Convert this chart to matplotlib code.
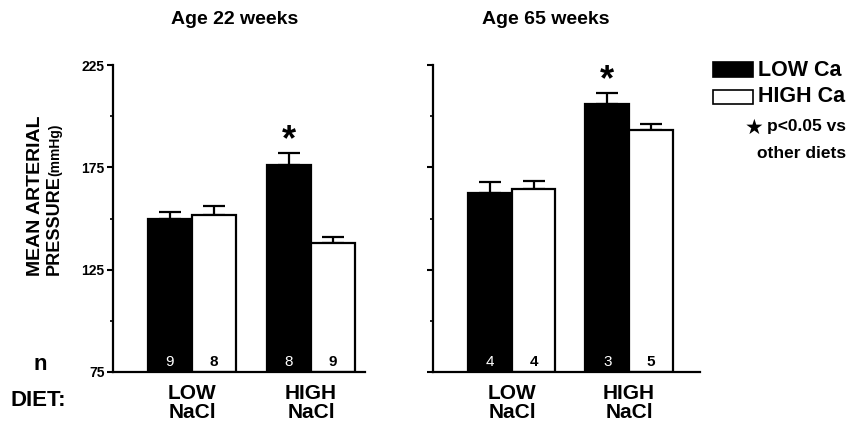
import matplotlib
matplotlib.use("Agg")
import matplotlib.pyplot as plt
import numpy as np

plt.rcParams['font.family'] = ['Liberation Sans', 'DejaVu Sans']

# data
groups = ['LOW\nNaCl', 'HIGH\nNaCl']
ages = ['Age 22 weeks', 'Age 65 weeks']

map22_low_ca = [150, 176]
map22_low_ca_err = [3, 6]
map22_high_ca = [151.5, 138]
map22_high_ca_err = [4.5, 3]
n22_low_ca = [9, 8]
n22_high_ca = [8, 9]

map65_low_ca = [162.5, 206]
map65_low_ca_err = [5.3, 5.3]
map65_high_ca = [164.3, 193.4]
map65_high_ca_err = [4, 3]
n65_low_ca = [4, 3]
n65_high_ca = [4, 5]

signif = [[False, True], [False, True]]  # star on LOW Ca bar

yticks_major = [75, 125, 175, 225]
yticks_minor = [100, 150, 200]

fig = plt.figure(figsize=(8.52, 4.30), dpi=100)
ax1 = fig.add_axes([0.1326, 0.1349, 0.2958, 0.7139])
ax2 = fig.add_axes([0.5082, 0.1349, 0.3134, 0.7139])

panels = [
    (ax1, map22_low_ca, map22_low_ca_err, map22_high_ca, map22_high_ca_err,
     n22_low_ca, n22_high_ca, (-0.664, 1.454)),
    (ax2, map65_low_ca, map65_low_ca_err, map65_high_ca, map65_high_ca_err,
     n65_low_ca, n65_high_ca, (-0.675, 1.607)),
]

w = 0.372
x = np.arange(len(groups))
for i, (ax, lo, lo_err, hi, hi_err, n_lo, n_hi, xl) in enumerate(panels):
    ax.bar(x - w / 2, [v - 75 for v in lo], w, bottom=75, color='black',
           edgecolor='black', linewidth=1.6, zorder=2)
    ax.bar(x + w / 2, [v - 75 for v in hi], w, bottom=75, color='white',
           edgecolor='black', linewidth=1.6, zorder=2)
    ax.errorbar(x - w / 2, lo, yerr=[np.zeros(2), lo_err], fmt='none',
                ecolor='black', elinewidth=1.6, capsize=8, capthick=1.6, zorder=1)
    ax.errorbar(x + w / 2, hi, yerr=[np.zeros(2), hi_err], fmt='none',
                ecolor='black', elinewidth=1.6, capsize=8, capthick=1.6, zorder=1)
    for j in range(len(groups)):
        ax.text(x[j] - w / 2, 80, str(n_lo[j]), color='white', fontsize=11,
                ha='center', va='center')
        ax.text(x[j] + w / 2, 80, str(n_hi[j]), color='black', fontsize=11,
                fontweight='bold', ha='center', va='center')
        if signif[i][j]:
            ax.annotate('*', (x[j] - w / 2, lo[j] + lo_err[j]), xytext=(0, -4),
                        textcoords='offset points', ha='center', va='bottom',
                        fontsize=26, fontweight='bold')
    ax.set_xlim(*xl)
    ax.set_ylim(75, 225)
    ax.set_xticks([])
    ax.set_yticks(yticks_major)
    ax.set_yticks(yticks_minor, minor=True)
    ax.tick_params(axis='y', which='major', direction='out', length=4, width=1.5,
                   labelsize=10, pad=2)
    ax.tick_params(axis='y', which='minor', direction='out', length=2, width=1.2)
    for lab in ax.get_yticklabels():
        lab.set_fontweight('bold')
    ax.spines['top'].set_visible(False)
    ax.spines['right'].set_visible(False)
    ax.spines['left'].set_linewidth(1.6)
    ax.spines['bottom'].set_linewidth(1.6)
    for j, g in enumerate(groups):
        ax.text(x[j], -0.04, g, transform=ax.get_xaxis_transform(), ha='center',
                va='top', fontsize=15, fontweight='bold', linespacing=0.95)

ax2.tick_params(axis='y', labelleft=False)

# titles
fig.text(235 / 852, 1 - 20 / 430, ages[0], ha='center', va='center',
         fontsize=14, fontweight='bold')
fig.text(546 / 852, 1 - 20 / 430, ages[1], ha='center', va='center',
         fontsize=14, fontweight='bold')

# y label (two lines, unit smaller)
fig.text(36 / 852, 1 - 196 / 430, 'MEAN ARTERIAL', rotation=90, ha='center',
         va='center', fontsize=14, fontweight='bold')
fig.text(54 / 852, 1 - 275 / 430, 'PRESSURE', rotation=90, ha='center',
         va='bottom', fontsize=13, fontweight='bold')
fig.text(55 / 852, 1 - 176 / 430, '(mmHg)', rotation=90, ha='center',
         va='bottom', fontsize=10, fontweight='bold')

fig.text(40 / 852, 1 - 364 / 430, 'n', ha='center', va='center', fontsize=16,
         fontweight='bold')
fig.text(10 / 852, 1 - 400 / 430, 'DIET:', ha='left', va='center', fontsize=16,
         fontweight='bold')

# legend
fig.patches.append(plt.Rectangle((713 / 852, 1 - 77 / 430), 40 / 852, 15 / 430,
                                 transform=fig.transFigure, facecolor='black',
                                 edgecolor='black', lw=1.2))
fig.patches.append(plt.Rectangle((713 / 852, 1 - 104 / 430), 40 / 852, 14 / 430,
                                 transform=fig.transFigure, facecolor='white',
                                 edgecolor='black', lw=1.2))
fig.text(758 / 852, 1 - 70 / 430, 'LOW Ca', ha='left', va='center', fontsize=15.5,
         fontweight='bold')
fig.text(758 / 852, 1 - 97 / 430, 'HIGH Ca', ha='left', va='center', fontsize=15.5,
         fontweight='bold')
fig.text(846 / 852, 1 - 127 / 430, 'p<0.05 vs', ha='right', va='center',
         fontsize=12.5, fontweight='bold')
fig.text(754 / 852, 1 - 128 / 430, '\u2605', ha='center', va='center',
         fontsize=15, family=['DejaVu Sans'])
fig.text(846 / 852, 1 - 154 / 430, 'other diets', ha='right', va='center',
         fontsize=12.5, fontweight='bold')

fig.savefig('out.png', dpi=100)
